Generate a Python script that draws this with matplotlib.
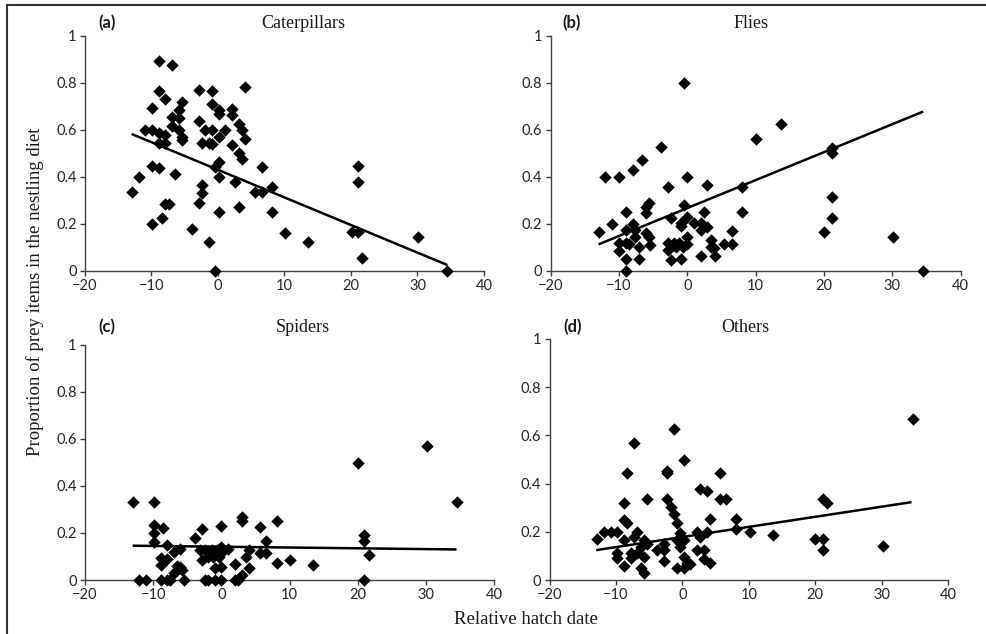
import numpy as np
import matplotlib
matplotlib.use("Agg")
import matplotlib.pyplot as plt
from matplotlib.lines import Line2D

# DATA BLOCK
cat_x = [-13.0, -11.9, -11.0, -9.9, -9.9, -9.9, -9.9, -8.9, -8.9, -8.9, -8.9, -8.9,
         -8.4, -7.9, -7.9, -7.9, -7.9, -7.4, -6.9, -6.9, -6.9, -6.4, -5.9, -5.9, -5.9,
         -5.4, -5.4, -5.4, -3.9, -2.9, -2.9, -2.9, -2.4, -2.4, -2.4, -1.9, -1.4, -1.4,
         -0.9, -0.9, -0.9, -0.9, -0.4, -0.4, 0.1, 0.1, 0.1, 0.1, 0.1, 0.1, 1.1, 2.1,
         2.1, 2.1, 2.6, 3.1, 3.1, 3.1, 3.6, 3.6, 4.1, 4.1, 5.6, 6.6, 6.6, 8.1, 8.1,
         10.1, 13.6, 20.1, 21.1, 21.1, 21.1, 21.6, 30.1, 34.5]
cat_y = [0.333, 0.40, 0.60, 0.60, 0.694, 0.447, 0.199, 0.891, 0.766, 0.584, 0.545, 0.438,
         0.223, 0.73, 0.577, 0.545, 0.285, 0.285, 0.874, 0.652, 0.616, 0.411, 0.682, 0.651, 0.599,
         0.718, 0.570, 0.556, 0.176, 0.769, 0.637, 0.287, 0.365, 0.332, 0.542, 0.599, 0.542, 0.123,
         0.765, 0.708, 0.599, 0.539, 0.0, 0.443, 0.684, 0.667, 0.570, 0.461, 0.40, 0.248, 0.60, 0.687,
         0.662, 0.533, 0.376, 0.623, 0.50, 0.272, 0.599, 0.474, 0.783, 0.562, 0.333, 0.443, 0.333, 0.357, 0.248,
         0.159, 0.123, 0.166, 0.166, 0.445, 0.376, 0.052, 0.142, 0.0]

fly_x = [-12.9, -12.0, -11.0, -10.0, -10.0, -10.0, -9.0, -9.0, -9.0, -9.0, -9.0, -8.5,
         -8.0, -8.0, -7.6, -7.6, -7.1, -7.1, -6.6, -6.1, -6.1, -6.1, -5.6, -5.6, -5.4,
         -3.9, -2.9, -2.9, -2.9, -2.4, -2.4, -2.0, -1.7, -1.2, -1.0, -1.0, -1.0, -0.7,
         -0.5, -0.5, 0.0, 0.0, 0.0, 0.0, 1.0, 2.0, 2.0, 2.0, 2.4, 2.9, 2.9, 3.4, 3.4,
         3.9, 4.1, 5.4, 6.6, 6.6, 8.0, 8.0, 10.0, 13.7, 20.0, 21.1, 21.1, 21.1, 21.1,
         30.1, 34.5]
fly_y = [0.166, 0.40, 0.20, 0.40, 0.119, 0.085, 0.251, 0.173, 0.119, 0.048, 0.0, 0.113,
         0.428, 0.199, 0.173, 0.145, 0.048, 0.099, 0.471, 0.247, 0.272, 0.159, 0.287, 0.145, 0.109,
         0.528, 0.357, 0.119, 0.088, 0.223, 0.045, 0.119, 0.102, 0.119, 0.048, 0.204, 0.19, 0.102,
         0.80, 0.279, 0.40, 0.23, 0.145, 0.113, 0.204, 0.201, 0.173, 0.062, 0.251, 0.365, 0.187, 0.13, 0.102,
         0.095, 0.062, 0.113, 0.113, 0.17, 0.357, 0.251, 0.56, 0.624, 0.166, 0.50, 0.52, 0.312, 0.223,
         0.142, 0.0]

spi_x = [-12.9, -12.1, -11.1, -9.9, -9.9, -9.9, -9.9, -8.9, -8.9, -8.9, -8.5, -8.0, -8.0,
         -8.0, -7.5, -7.0, -7.0, -6.5, -6.5, -6.0, -6.0, -5.8, -5.5, -3.9, -3.1, -2.9, -2.9,
         -2.4, -2.4, -2.0, -1.9, -1.4, -1.2, -0.9, -0.9, -0.7, -0.4, 0.0, 0.0, 0.0, 0.0, 0.0,
         1.0, 2.0, 2.0, 2.5, 3.0, 3.1, 3.1, 3.6, 4.1, 4.1, 5.6, 5.6, 6.6, 6.6, 8.1, 8.1,
         10.0, 13.5, 20.1, 21.0, 21.0, 21.0, 21.6, 30.1, 34.5]
spi_y = [0.333, 0.0, 0.0, 0.333, 0.234, 0.201, 0.163, 0.0, 0.064, 0.094, 0.223, 0.0, 0.149,
         0.088, 0.0, 0.028, 0.12, 0.043, 0.06, 0.057, 0.13, 0.043, 0.0, 0.177, 0.128, 0.215, 0.083,
         0.0, 0.128, 0.1, 0.0, 0.128, 0.1, 0.05, 0.0, 0.128, 0.1, 0.23, 0.142, 0.113, 0.054, 0.0,
         0.13, 0.066, 0.0, 0.0, 0.023, 0.27, 0.25, 0.1, 0.128, 0.05, 0.224, 0.113, 0.167, 0.113, 0.25, 0.071,
         0.083, 0.062, 0.50, 0.19, 0.167, 0.0, 0.105, 0.572, 0.333]

oth_x = [-12.8, -11.8, -10.8, -9.8, -9.8, -9.8, -8.8, -8.8, -8.8, -8.8, -8.3, -8.3, -7.8,
         -7.8, -7.3, -7.3, -6.8, -6.8, -6.3, -6.3, -5.8, -5.8, -5.8, -5.3, -5.3, -3.8, -2.8,
         -2.8, -2.8, -2.3, -2.3, -2.3, -1.8, -1.3, -1.3, -0.8, -0.8, -0.8, -0.3, -0.3, 0.2,
         0.2, 0.2, 0.2, 0.7, 1.2, 2.2, 2.2, 2.7, 2.7, 3.2, 3.2, 3.7, 3.7, 4.2, 4.2, 5.6,
         5.6, 6.6, 8.1, 8.1, 10.1, 13.6, 19.9, 21.2, 21.2, 21.2, 21.7, 30.2, 34.7]
oth_y = [0.169, 0.20, 0.20, 0.20, 0.09, 0.11, 0.058, 0.249, 0.318, 0.166, 0.445, 0.235, 0.11,
         0.09, 0.57, 0.18, 0.20, 0.11, 0.048, 0.138, 0.166, 0.028, 0.097, 0.335, 0.149, 0.124, 0.08,
         0.124, 0.149, 0.454, 0.445, 0.335, 0.304, 0.625, 0.274, 0.235, 0.166, 0.048, 0.196, 0.138, 0.50,
         0.166, 0.097, 0.048, 0.069, 0.066, 0.20, 0.124, 0.376, 0.18, 0.124, 0.086, 0.371, 0.20, 0.252, 0.069, 0.445,
         0.335, 0.335, 0.252, 0.21, 0.20, 0.187, 0.169, 0.169, 0.124, 0.335, 0.318, 0.141, 0.667]

# regression lines, end points
fit_x = [-13.0, 34.5]
fit_cat = [0.582, 0.024]
fit_fly = [0.112, 0.677]
fit_spi = [0.146, 0.130]
fit_oth = [0.124, 0.323]

panel_tags = ["(a)", "(b)", "(c)", "(d)"]
panel_names = ["Caterpillars", "Flies", "Spiders", "Others"]

xticks = [-20, -10, 0, 10, 20, 30, 40]
xtick_labels = ["\u221220", "\u221210", "0", "10", "20", "30", "40"]
yticks = [0, 0.2, 0.4, 0.6, 0.8, 1.0]
ytick_labels = ["0", "0.2", "0.4", "0.6", "0.8", "1"]

# CONST BLOCK
W, H = 987, 634
SERIF = "Liberation Serif"
SANS = "Lato"
AXCOL = "#404040"

def px(x, y):
    return x / W, 1 - y / H

fig = plt.figure(figsize=(W / 100, H / 100), dpi=100)

# axes boxes in pixels: left, right, top, bottom
boxes = [
    (85, 484, 35.7, 270.7),
    (550.7, 960.7, 35.7, 270.7),
    (85, 494, 345, 580),
    (549.7, 948, 339, 580),
]
# (tag x, name x, text y) in pixels
heads = [
    (107, 303, 23),
    (572, 751, 23),
    (107, 303, 327),
    (573, 745, 327),
]
series = [(cat_x, cat_y, fit_cat), (fly_x, fly_y, fit_fly),
          (spi_x, spi_y, fit_spi), (oth_x, oth_y, fit_oth)]

for i, (l, r, t, b) in enumerate(boxes):
    ax = fig.add_axes([l / W, 1 - b / H, (r - l) / W, (b - t) / H])
    xs, ys, fit = series[i]
    ax.plot(fit_x, fit, color="black", lw=1.8, zorder=3, solid_capstyle="butt")
    ax.scatter(xs, ys, marker="D", s=40, color="black", zorder=4, clip_on=False, linewidths=0)
    ax.set_xlim(-20, 40)
    ax.set_ylim(0, 1)
    ax.set_xticks(xticks)
    ax.set_xticklabels(xtick_labels)
    ax.set_yticks(yticks)
    ax.set_yticklabels(ytick_labels)
    for s in ["top", "right"]:
        ax.spines[s].set_visible(False)
    for s in ["left", "bottom"]:
        ax.spines[s].set_color(AXCOL)
        ax.spines[s].set_linewidth(1.0)
    ax.tick_params(direction="out", length=3.5, width=1.0, color=AXCOL,
                   labelsize=10.5, labelcolor="#262626", pad=2.5)
    for lab in ax.get_xticklabels() + ax.get_yticklabels():
        lab.set_family(SANS)

    tx, nx, ty = heads[i]
    fig.text(*px(tx, ty), panel_tags[i], family=SANS, weight="bold", fontsize=12,
             ha="center", va="center", color="#1a1a1a")
    fig.text(*px(nx, ty), panel_names[i], family=SERIF, fontsize=13,
             ha="center", va="center", color="#1a1a1a")

fig.text(*px(35, 292), "Proportion of prey items in the nestling diet", family=SERIF,
         fontsize=13.5, rotation=90, ha="center", va="center", color="#1a1a1a")
fig.text(*px(526, 619), "Relative hatch date", family=SERIF, fontsize=13.5,
         ha="center", va="center", color="#1a1a1a")

# frame lines on the top and left edge of the image
fig.add_artist(Line2D([7 / W, 1], [1 - 5 / H, 1 - 5 / H], transform=fig.transFigure,
                      color="#333333", lw=1.5))
fig.add_artist(Line2D([7 / W, 7 / W], [0, 1 - 5 / H], transform=fig.transFigure,
                      color="#333333", lw=1.5))

fig.savefig("out.png", dpi=100)
